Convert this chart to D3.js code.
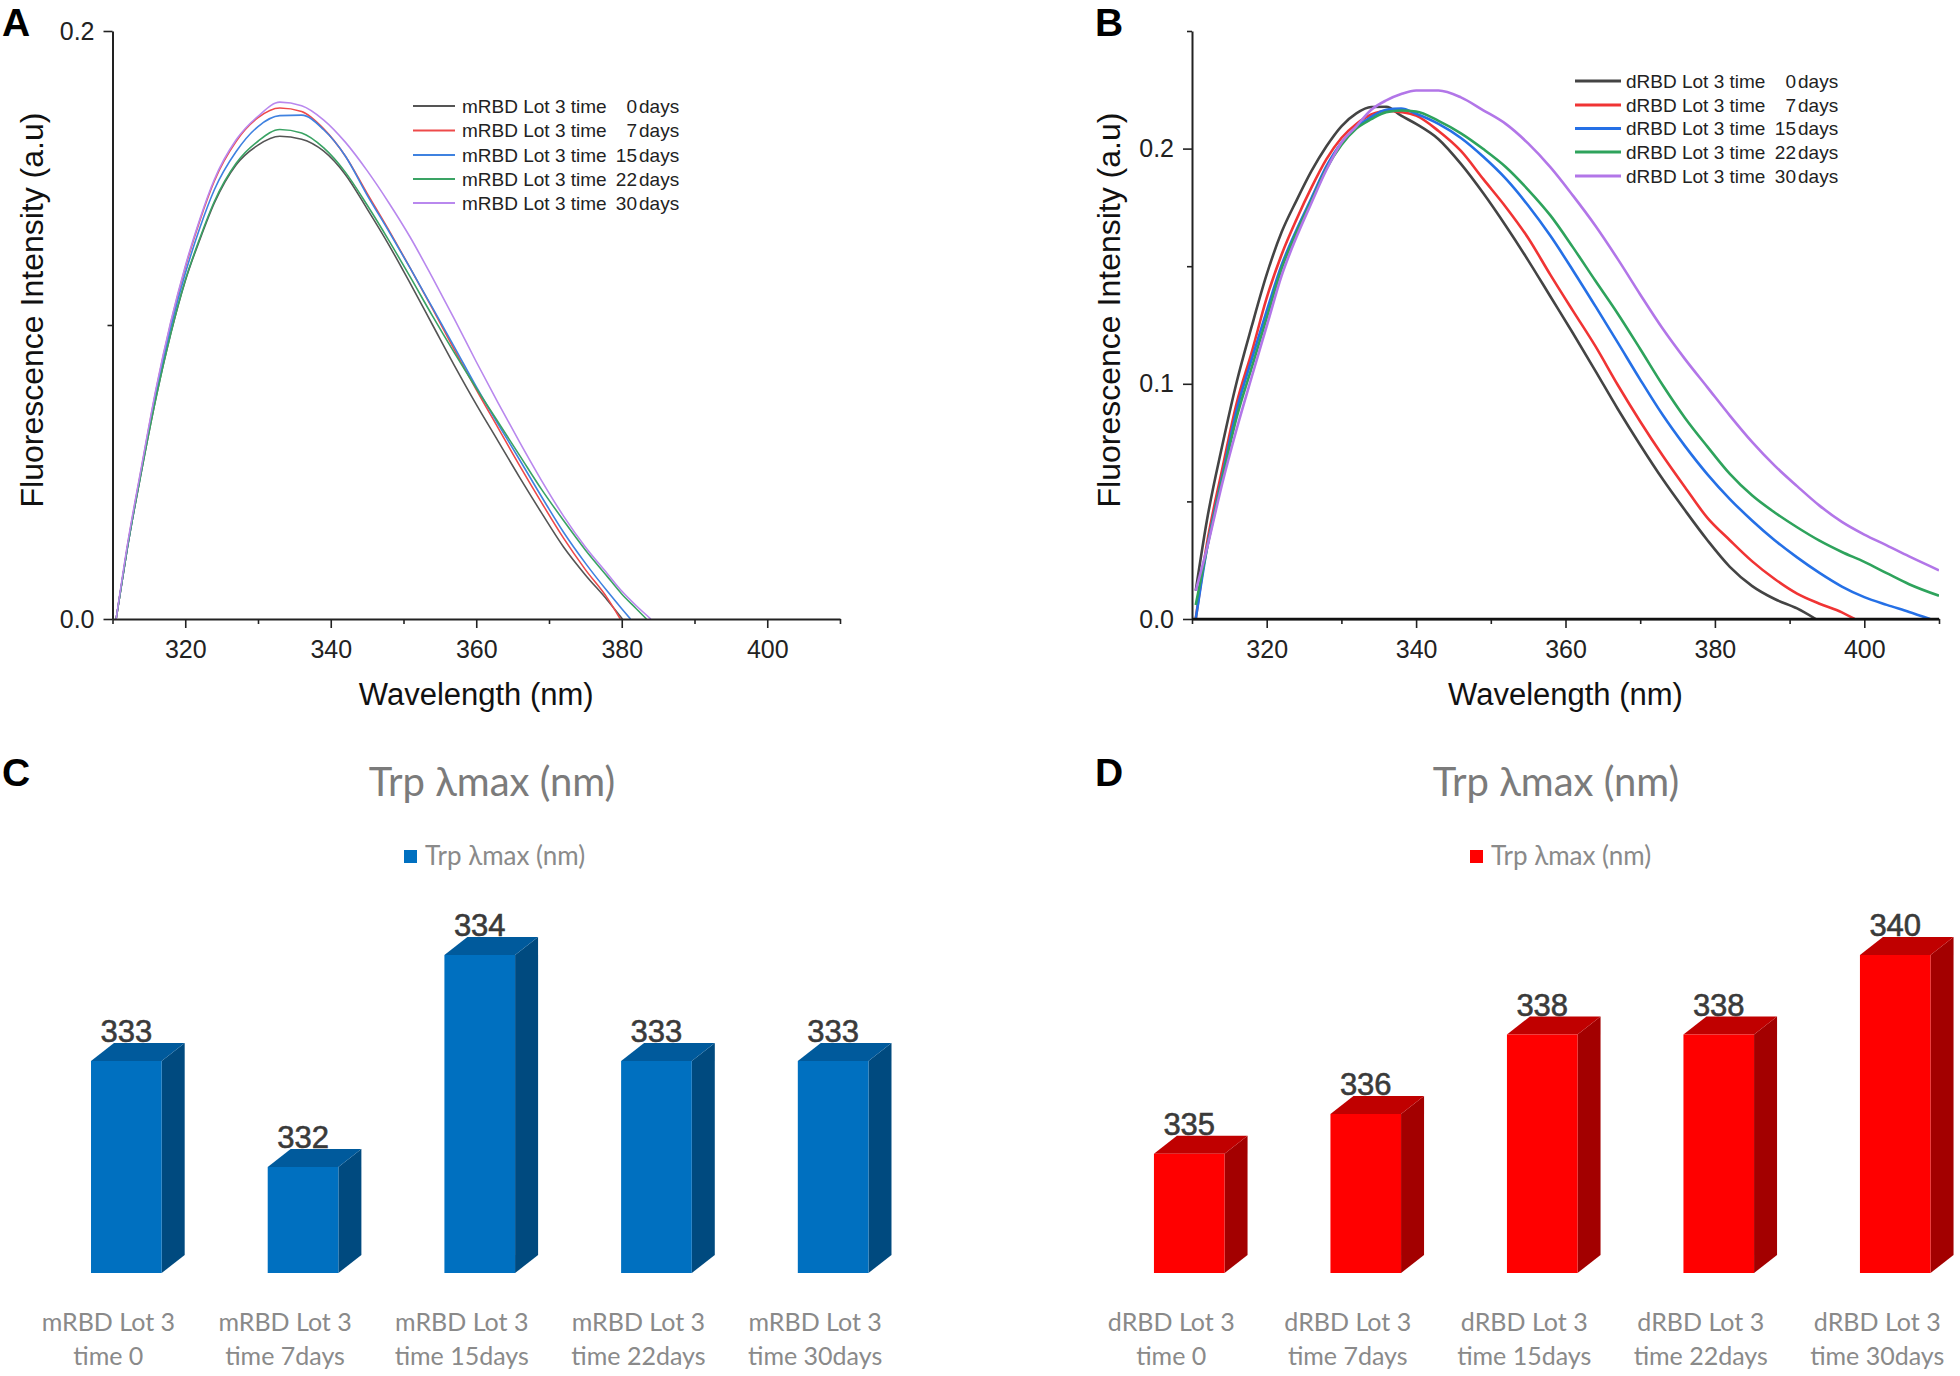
<!DOCTYPE html>
<html><head><meta charset="utf-8">
<script src="https://cdn.jsdelivr.net/npm/d3@7"></script>
<style>
body{margin:0;background:#fff;}
svg{display:block;}
.sp text{font-family:"Liberation Sans",Arial,sans-serif;}
.xl text{font-family:Lato,"Open Sans",sans-serif;}
</style>
</head><body>
<svg id="fig" width="1960" height="1376"></svg>
<script>
// ---------------- DATA ----------------
const dayNumbers = ["0", "7", "15", "22", "30"];
const legendPrefixA = "mRBD Lot 3 time";
const legendPrefixB = "dRBD Lot 3 time";
const xTickMajor = [320, 340, 360, 380, 400];
const xTickMinor = [310, 330, 350, 370, 390, 410];

// Panel A: mRBD spectra
const wavelengthsA = [310.5,312,314,316,318,320,322,324,327,330,333,336,339,342,345,348,351,354,357,360,363,366,369,372,375,378,380,382,384.5];
const mRBD0  = [0,0.0235,0.0505,0.0755,0.097,0.115,0.129,0.1415,0.1545,0.1612,0.1642,0.1632,0.1592,0.1512,0.1395,0.1272,0.1138,0.1,0.0862,0.073,0.0605,0.048,0.036,0.0245,0.015,0.0065,null,null,null];
const mRBD7  = [0,0.024,0.0515,0.078,0.1005,0.1195,0.1355,0.149,0.1625,0.1705,0.1738,0.1726,0.1668,0.1575,0.1448,0.1322,0.119,0.1055,0.0915,0.078,0.065,0.052,0.0395,0.0275,0.0168,0.0072,null,null,null];
const mRBD15 = [0,0.0235,0.051,0.077,0.099,0.1175,0.133,0.146,0.159,0.1675,0.1712,0.1714,0.1665,0.1575,0.1442,0.1318,0.119,0.1058,0.0925,0.079,0.0663,0.054,0.0415,0.0295,0.019,0.0095,0.0035,null,null];
const mRBD22 = [0,0.0235,0.0505,0.0755,0.097,0.1152,0.1295,0.142,0.155,0.1625,0.1665,0.1653,0.1603,0.152,0.1408,0.1287,0.116,0.103,0.0905,0.0785,0.067,0.0555,0.044,0.0335,0.0235,0.0145,0.0085,0.0035,null];
const mRBD30 = [0,0.0245,0.052,0.0785,0.101,0.12,0.136,0.1495,0.163,0.171,0.1758,0.1746,0.1698,0.1622,0.1525,0.1415,0.1295,0.116,0.102,0.0875,0.0735,0.06,0.047,0.035,0.0245,0.0155,0.0095,0.0045,null];
const mRBDZeroAt = [380.1, 379.8, 381.2, 383.4, 384.0];

// Panel B: dRBD spectra
const wavelengthsB = [310.5,312,314,316,318,320,322,324,326,328,330,332,334,336,338,340,343,346,349,352,355,358,361,364,367,370,373,376,379,382,385,388,391,394,397,400,403,406,410];
const dRBD0  = [0.012,0.042,0.073,0.101,0.1245,0.1465,0.1645,0.178,0.1905,0.201,0.2095,0.215,0.2177,0.2178,0.2140,0.2105,0.2040,0.1935,0.181,0.1672,0.1525,0.137,0.1215,0.1055,0.0893,0.074,0.0595,0.0462,0.0335,0.0222,0.014,0.0085,0.0045,null,null,null,null,null,null];
const dRBD7  = [0,0.032,0.063,0.092,0.1135,0.1365,0.155,0.170,0.1835,0.1955,0.2045,0.2105,0.2145,0.216,0.2155,0.214,0.2075,0.199,0.187,0.1752,0.162,0.1462,0.131,0.116,0.0995,0.084,0.0695,0.056,0.043,0.0335,0.0245,0.017,0.0108,0.0065,0.0028,null,null,null,null];
const dRBD15 = [0,0.030,0.060,0.089,0.1105,0.131,0.1505,0.1655,0.179,0.1925,0.2025,0.209,0.2135,0.2165,0.217,0.2148,0.2105,0.2045,0.1965,0.1872,0.1758,0.1628,0.1482,0.133,0.1175,0.1018,0.0868,0.0735,0.0615,0.051,0.0418,0.0335,0.0262,0.0196,0.0138,0.0093,0.006,0.003,null];
const dRBD22 = [0.006,0.030,0.059,0.086,0.107,0.128,0.149,0.1645,0.178,0.1915,0.2015,0.2085,0.2125,0.2155,0.2162,0.2158,0.2118,0.2065,0.1998,0.1922,0.1825,0.1715,0.158,0.1438,0.1298,0.1148,0.0995,0.0855,0.0733,0.0617,0.0525,0.0453,0.039,0.0333,0.0285,0.0243,0.0195,0.0148,0.0099];
const dRBD30 = [0.012,0.030,0.057,0.081,0.103,0.1245,0.146,0.1625,0.177,0.191,0.2025,0.2095,0.2165,0.2205,0.2232,0.2247,0.2247,0.2218,0.2163,0.2105,0.2022,0.192,0.180,0.1672,0.153,0.138,0.1235,0.1105,0.0985,0.0865,0.0752,0.0652,0.0565,0.0482,0.0413,0.0359,0.0313,0.0266,0.0207];
const dRBDZeroAt = [393.5, 398.7, 408.8, null, null];

// Panels C, D: Trp lambda max
const categoriesC = [["mRBD Lot 3","time 0"],["mRBD Lot 3","time 7days"],["mRBD Lot 3","time 15days"],["mRBD Lot 3","time 22days"],["mRBD Lot 3","time 30days"]];
const lambdaMaxC = [333, 332, 334, 333, 333];
const categoriesD = [["dRBD Lot 3","time 0"],["dRBD Lot 3","time 7days"],["dRBD Lot 3","time 15days"],["dRBD Lot 3","time 22days"],["dRBD Lot 3","time 30days"]];
const lambdaMaxD = [335, 336, 338, 338, 340];
const barTitle = "Trp λmax (nm)";

// ---------------- DRAW ----------------
const svg = d3.select("#fig");

function spectrum(cfg) {
  const g = svg.append("g").attr("class", "sp");
  const x = d3.scaleLinear().domain([310, 410]).range([cfg.x0, cfg.x1]);
  const y = d3.scaleLinear().domain([0, cfg.ymax]).range([cfg.y0, cfg.y1]);
  const clipId = "clip" + cfg.id;
  svg.append("clipPath").attr("id", clipId).append("rect")
    .attr("x", cfg.x0).attr("y", cfg.y1 - 5).attr("width", cfg.x1 - cfg.x0).attr("height", cfg.y0 - cfg.y1 + 5);

  const line = d3.line().x(d => x(d[0])).y(d => y(d[1])).curve(d3.curveMonotoneX);
  const lines = g.append("g").attr("clip-path", `url(#${clipId})`);
  cfg.series.forEach((vals, i) => {
    const end = cfg.zeroAt[i];
    let pts = cfg.wl.map((w, j) => [w, vals[j]]).filter(p => p[1] != null && (end == null || p[0] < end));
    if (end != null) pts.push([end, 0]);
    lines.append("path").attr("d", line(pts)).attr("fill", "none")
      .attr("stroke", cfg.colors[i]).attr("stroke-width", cfg.lw).attr("stroke-linejoin", "round");
  });

  const axX = g.append("g").attr("transform", `translate(0,${cfg.y0})`);
  axX.call(d3.axisBottom(x).tickValues(xTickMinor).tickSize(5).tickSizeOuter(0).tickFormat(""));
  axX.call(g2 => g2.select(".domain").remove());
  const axX2 = g.append("g").attr("transform", `translate(0,${cfg.y0})`)
    .call(d3.axisBottom(x).tickValues(xTickMajor).tickSize(9).tickSizeOuter(0).tickPadding(12));
  [axX, axX2].forEach(a => {
    a.selectAll("line").attr("stroke", "#222").attr("stroke-width", 1.6);
    a.selectAll("text").attr("font-size", 25).attr("fill", "#222");
  });
  axX2.select(".domain").attr("stroke", "#222").attr("stroke-width", cfg.axw);

  const axY = g.append("g").attr("transform", `translate(${cfg.x0},0)`)
    .call(d3.axisLeft(y).tickValues(cfg.yMinor).tickSize(5).tickSizeOuter(0).tickFormat(""));
  axY.select(".domain").remove();
  const axY2 = g.append("g").attr("transform", `translate(${cfg.x0},0)`)
    .call(d3.axisLeft(y).tickValues(cfg.yMajor).tickSize(9).tickSizeOuter(0).tickPadding(9).tickFormat(d3.format(".1f")));
  [axY, axY2].forEach(a => {
    a.selectAll("line").attr("stroke", "#222").attr("stroke-width", 1.6);
    a.selectAll("text").attr("font-size", 25).attr("fill", "#222");
  });
  axY2.select(".domain").attr("stroke", "#222").attr("stroke-width", 2);
  if (cfg.zeroLine) {
    g.append("line").attr("x1", x(310)).attr("x2", x(410)).attr("y1", y(0)).attr("y2", y(0))
      .attr("stroke", "#111").attr("stroke-width", 2.6);
  }

  g.append("text").attr("x", (cfg.x0 + cfg.x1) / 2).attr("y", cfg.y0 + 86)
    .attr("text-anchor", "middle").attr("font-size", 31).attr("fill", "#111").text("Wavelength (nm)");
  g.append("text").attr("transform", `translate(${cfg.ytx},${cfg.yty}) rotate(-90)`)
    .attr("text-anchor", "middle").attr("dominant-baseline", "middle").attr("font-size", 32).attr("fill", "#111")
    .text("Fluorescence Intensity (a.u)");

  const lg = g.append("g");
  cfg.series.forEach((_, i) => {
    const ly = cfg.legY[i];
    lg.append("line").attr("x1", cfg.legLx0).attr("x2", cfg.legLx1).attr("y1", ly).attr("y2", ly)
      .attr("stroke", cfg.colors[i]).attr("stroke-width", cfg.legLw);
    lg.append("text").attr("x", cfg.legTx).attr("y", ly).attr("dy", "0.35em").attr("font-size", 19).attr("fill", "#222").text(cfg.prefix);
    lg.append("text").attr("x", cfg.legNumEnd).attr("y", ly).attr("dy", "0.35em").attr("font-size", 19).attr("fill", "#222")
      .attr("text-anchor", "end").text(dayNumbers[i]);
    lg.append("text").attr("x", cfg.legNumEnd + 2).attr("y", ly).attr("dy", "0.35em").attr("font-size", 19).attr("fill", "#222").text("days");
  });
  g.append("text").attr("x", cfg.letterX).attr("y", 36).attr("font-size", 39).attr("font-weight", "bold")
    .attr("fill", "#000").text(cfg.letter);
}

spectrum({
  id: "A", letter: "A", letterX: 2,
  x0: 112.5, x1: 840, y0: 619, y1: 31, ymax: 0.2,
  yMajor: [0, 0.2], yMinor: [0.1],
  wl: wavelengthsA, series: [mRBD0, mRBD7, mRBD15, mRBD22, mRBD30], zeroAt: mRBDZeroAt,
  colors: ["#555555", "#ee4a4a", "#3f82e0", "#3aa364", "#b988ee"], lw: 1.6, axw: 2,
  ytx: 35, yty: 310,
  legY: [106, 130.5, 155, 179, 203], legLx0: 413, legLx1: 455, legLw: 1.8, legTx: 462, legNumEnd: 637, prefix: legendPrefixA
});

spectrum({
  id: "B", letter: "B", letterX: 1095,
  x0: 1192, x1: 1939, y0: 619, y1: 31, ymax: 0.25,
  yMajor: [0, 0.1, 0.2], yMinor: [0.05, 0.15, 0.25],
  wl: wavelengthsB, series: [dRBD0, dRBD7, dRBD15, dRBD22, dRBD30], zeroAt: dRBDZeroAt,
  colors: ["#444444", "#f03434", "#2570e6", "#2ea35c", "#b276e8"], lw: 2.6, axw: 2, zeroLine: true,
  ytx: 1112, yty: 310,
  legY: [81, 105, 128.5, 152, 176], legLx0: 1575, legLx1: 1621, legLw: 3, legTx: 1626, legNumEnd: 1796, prefix: legendPrefixB
});

function bars(cfg) {
  const g = svg.append("g").attr("class", "xl");
  const xb = d3.scaleBand().domain(d3.range(cfg.values.length)).range([cfg.r0, cfg.r1]).paddingInner(0.6).paddingOuter(0.3);
  const yb = d3.scaleLinear().domain(cfg.domain).range([1273, 955]);
  const dx = 23, dy = -18;
  const base = yb(cfg.domain[0]);
  cfg.values.forEach((v, i) => {
    const x = xb(i), w = xb.bandwidth(), t = yb(v);
    g.append("polygon").attr("points", [[x + w, t], [x + w + dx, t + dy], [x + w + dx, base + dy], [x + w, base]].join(" "))
      .attr("fill", cfg.side);
    g.append("polygon").attr("points", [[x, t], [x + dx, t + dy], [x + w + dx, t + dy], [x + w, t]].join(" "))
      .attr("fill", cfg.top);
    g.append("rect").attr("x", x).attr("y", t).attr("width", w).attr("height", base - t).attr("fill", cfg.front);
    g.append("text").attr("x", x + w / 2).attr("y", t - 19).attr("text-anchor", "middle")
      .attr("font-size", 31).attr("fill", "#3a3a3a").attr("stroke", "#3a3a3a").attr("stroke-width", 0.6)
      .style("font-family", '"Liberation Sans",Arial,sans-serif').text(v);
    const c = cfg.cats[i];
    c.forEach((ln, k) => {
      g.append("text").attr("x", x + w / 2 - 18).attr("y", 1322 + k * 34).attr("dy", "0.35em")
        .attr("text-anchor", "middle").attr("font-size", 25).attr("fill", "#8a8a8a").text(ln);
    });
  });
  g.append("text").attr("x", cfg.titleX).attr("y", 782).attr("dy", "0.35em").attr("text-anchor", "middle")
    .attr("font-size", 40).attr("fill", "#7b7b7b").text(barTitle);
  g.append("rect").attr("x", cfg.legX).attr("y", 850).attr("width", 13).attr("height", 13).attr("fill", cfg.front);
  g.append("text").attr("x", cfg.legX + 21).attr("y", 856).attr("dy", "0.35em").attr("font-size", 26)
    .attr("fill", "#8a8a8a").text(barTitle);
  svg.append("text").attr("x", cfg.letterX).attr("y", 786).attr("font-size", 39).attr("font-weight", "bold")
    .style("font-family", '"Liberation Sans",Arial,sans-serif').attr("fill", "#000").text(cfg.letter);
}

bars({ letter: "C", letterX: 2, values: lambdaMaxC, cats: categoriesC, domain: [331, 334],
  r0: 38, r1: 921.5, front: "#0070c0", side: "#004a7f", top: "#005a9c", titleX: 492, legX: 404 });
bars({ letter: "D", letterX: 1095, values: lambdaMaxD, cats: categoriesD, domain: [332, 340],
  r0: 1101, r1: 1983.5, front: "#ff0000", side: "#a30000", top: "#c00000", titleX: 1556, legX: 1470 });
</script>
</body></html>
